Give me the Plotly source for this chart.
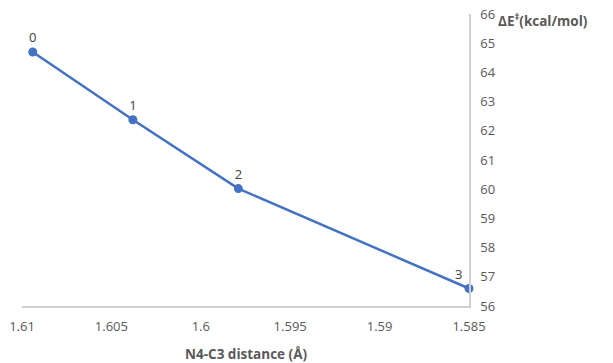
import plotly.graph_objects as go

distance = [1.6094, 1.6038, 1.5979, 1.5850]
energy = [64.70, 62.38, 60.02, 56.60]
labels = ["0", "1", "2", "3"]
label_pos = ["top center", "top center", "top center", "top left"]

fig = go.Figure()
fig.add_trace(go.Scatter(
    x=distance, y=energy, mode="lines+markers+text",
    text=labels, textposition=label_pos,
    textfont=dict(family="Open Sans", size=13, color="#404040"),
    line=dict(color="#4472C4", width=2.5),
    marker=dict(color="#4472C4", size=9),
    cliponaxis=False, showlegend=False, hoverinfo="skip",
))

fig.update_layout(
    width=613, height=363,
    margin=dict(l=22, r=144, t=14, b=57, autoexpand=False),
    paper_bgcolor="white", plot_bgcolor="white",
    font=dict(family="Open Sans", color="#595959", size=13),
    xaxis=dict(
        range=[1.61, 1.585], dtick=0.005, tick0=1.585,
        showgrid=False, zeroline=False, automargin=False,
        showline=True, linecolor="#d0d0d0", linewidth=1.5,
        ticks="", ticklabelstandoff=8,
        tickfont=dict(size=13, color="#595959"),
    ),
    yaxis=dict(
        range=[56, 66], dtick=1, side="right",
        showgrid=False, zeroline=False, automargin=False,
        showline=True, linecolor="#d0d0d0", linewidth=1.5,
        ticks="", ticklabelstandoff=7,
        tickfont=dict(size=13, color="#595959"),
    ),
    annotations=[
        dict(text="<b>N4-C3 distance (Å)</b>", xref="paper", yref="paper",
             x=0.5, y=0, yshift=-37, yanchor="top", showarrow=False,
             font=dict(size=13.5, color="#595959", family="Open Sans")),
        dict(text="<b>ΔE<sup>‡</sup>(kcal/mol)</b>", xref="paper", yref="paper",
             x=1, xshift=27, y=1, yshift=6, xanchor="left", yanchor="top", showarrow=False,
             font=dict(size=13.5, color="#595959", family="Open Sans")),
    ],
)

fig.write_html("out.html", config={"displayModeBar": False},
               post_script="document.body.style.margin='0';")
